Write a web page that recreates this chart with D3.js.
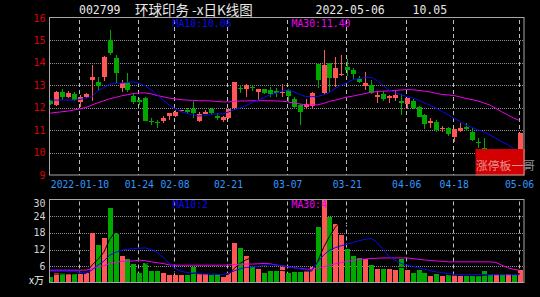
<!DOCTYPE html>
<html>
<head>
<meta charset="utf-8">
<script src="https://cdn.jsdelivr.net/npm/d3@7"></script>
<style>
html, body { margin: 0; padding: 0; background: #000; }
svg { display: block; }
</style>
</head>
<body>
<svg id="chart" width="540" height="297"></svg>
<script>
// trading days shown (first one is cut by the left border)
var dates = [
    "2021-12-31",
    "2022-01-04", "2022-01-05", "2022-01-06", "2022-01-07",
    "2022-01-10", "2022-01-11", "2022-01-12", "2022-01-13", "2022-01-14",
    "2022-01-17", "2022-01-18", "2022-01-19", "2022-01-20", "2022-01-21",
    "2022-01-24", "2022-01-25", "2022-01-26", "2022-01-27", "2022-01-28",
    "2022-02-07", "2022-02-08", "2022-02-09", "2022-02-10", "2022-02-11",
    "2022-02-14", "2022-02-15", "2022-02-16", "2022-02-17", "2022-02-18",
    "2022-02-21", "2022-02-22", "2022-02-23", "2022-02-24", "2022-02-25",
    "2022-02-28", "2022-03-01", "2022-03-02", "2022-03-03", "2022-03-04",
    "2022-03-07", "2022-03-08", "2022-03-09", "2022-03-10", "2022-03-11",
    "2022-03-14", "2022-03-15", "2022-03-16", "2022-03-17", "2022-03-18",
    "2022-03-21", "2022-03-22", "2022-03-23", "2022-03-24", "2022-03-25",
    "2022-03-28", "2022-03-29", "2022-03-30", "2022-03-31", "2022-04-01",
    "2022-04-06", "2022-04-07", "2022-04-08",
    "2022-04-11", "2022-04-12", "2022-04-13", "2022-04-14", "2022-04-15",
    "2022-04-18", "2022-04-19", "2022-04-20", "2022-04-21", "2022-04-22",
    "2022-04-25", "2022-04-26", "2022-04-27", "2022-04-28", "2022-04-29",
    "2022-05-05", "2022-05-06"
];

var open = [12.30, 12.12, 12.71, 12.46, 12.61, 12.27, 12.49, 13.24, 13.13, 13.36,
    15.02, 14.20, 12.87, 13.15, 12.51, 12.33, 12.45, 11.40, 11.38, 11.42,
    11.64, 11.64, 11.84, 11.90, 11.93, 11.41, 11.73, 11.93, 11.64, 11.45,
    11.55, 11.97, 12.90, 12.83, 12.92, 12.71, 12.82, 12.79, 12.74, 12.64,
    12.79, 12.38, 12.12, 12.03, 12.08, 13.95, 12.64, 13.98, 13.33, 13.46,
    13.83, 13.68, 13.30, 12.97, 13.01, 12.46, 12.61, 12.45, 12.42, 12.30,
    12.17, 12.30, 12.05, 11.68, 11.31, 11.38, 11.04, 11.08, 10.71, 10.96,
    11.13, 10.93, 10.48, 10.22, 9.95, 9.40, 9.55, 9.30, 9.40, 9.20];
var high = [12.35, 12.75, 12.82, 12.76, 12.70, 12.55, 12.67, 13.89, 13.36, 14.30,
    15.47, 14.35, 13.25, 13.55, 12.65, 12.45, 12.50, 11.55, 11.47, 11.62,
    11.76, 11.88, 11.92, 11.97, 12.30, 11.82, 11.88, 11.98, 11.75, 11.62,
    11.95, 13.15, 13.00, 13.05, 12.98, 12.85, 12.85, 12.91, 12.87, 13.04,
    12.85, 12.49, 12.15, 12.38, 12.70, 14.00, 14.57, 14.00, 14.27, 14.35,
    14.16, 13.75, 13.40, 13.60, 13.24, 12.69, 12.75, 12.57, 12.75, 12.60,
    12.45, 12.38, 12.08, 11.70, 11.54, 11.45, 11.18, 11.12, 11.06, 11.33,
    11.33, 11.08, 10.66, 10.64, 10.02, 9.62, 9.60, 9.50, 9.45, 10.86];
var low = [12.10, 12.08, 12.34, 12.42, 12.30, 12.02, 12.45, 12.30, 12.75, 13.20,
    14.35, 13.10, 12.70, 12.68, 12.15, 12.12, 11.40, 11.23, 11.10, 11.30,
    11.45, 11.60, 11.80, 11.70, 11.53, 11.35, 11.70, 11.72, 11.45, 11.35,
    11.50, 11.90, 12.64, 12.49, 12.75, 12.34, 12.60, 12.49, 12.50, 12.49,
    12.27, 11.93, 11.23, 11.98, 11.95, 12.87, 12.60, 12.71, 12.94, 13.40,
    13.43, 13.30, 13.08, 12.79, 12.60, 12.20, 12.31, 12.20, 12.30, 11.68,
    11.94, 11.94, 11.58, 11.05, 11.10, 10.93, 10.93, 10.75, 10.49, 10.93,
    10.98, 10.50, 10.22, 9.90, 9.40, 9.30, 9.25, 9.20, 9.10, 9.15];
var close = [12.17, 12.71, 12.46, 12.64, 12.34, 12.49, 12.60, 13.38, 12.95, 14.25,
    14.43, 13.55, 13.09, 12.78, 12.26, 12.27, 11.42, 11.36, 11.33, 11.53,
    11.75, 11.82, 11.88, 11.82, 11.78, 11.71, 11.82, 11.78, 11.56, 11.60,
    11.93, 13.13, 12.84, 13.01, 12.88, 12.82, 12.66, 12.61, 12.65, 12.71,
    12.52, 12.02, 11.82, 12.16, 12.65, 13.24, 13.90, 13.33, 13.76, 13.52,
    13.68, 13.50, 13.16, 13.09, 12.67, 12.57, 12.39, 12.52, 12.57, 12.20,
    12.42, 12.00, 11.60, 11.26, 11.42, 11.01, 11.11, 10.83, 11.04, 11.08,
    11.05, 10.56, 10.44, 9.95, 9.45, 9.55, 9.30, 9.45, 9.14, 10.86];

var ma10 = [12.34, 12.34, 12.34, 12.34, 12.34, 12.37, 12.43, 12.49, 12.75, 12.90,
    13.04, 13.09, 13.10, 13.13, 13.15, 13.08, 12.97, 12.79, 12.57, 12.34,
    12.12, 11.97, 11.83, 11.75, 11.68, 11.63, 11.65, 11.70, 11.72, 11.72,
    11.81, 11.92, 11.99, 12.10, 12.23, 12.34, 12.46, 12.57, 12.64, 12.75,
    12.79, 12.71, 12.59, 12.50, 12.49, 12.50, 12.57, 12.68, 12.86, 13.01,
    13.12, 13.26, 13.30, 13.35, 13.36, 13.21, 13.01, 12.79, 12.67, 12.59,
    12.50, 12.43, 12.34, 12.21, 12.10, 11.97, 11.83, 11.68, 11.52, 11.39,
    11.23, 11.12, 11.01, 10.92, 10.78, 10.64, 10.49, 10.36, 10.18, 10.07];
var ma30 = [11.76, 11.79, 11.82, 11.85, 11.90, 11.95, 12.01, 12.12, 12.22, 12.31,
    12.40, 12.46, 12.53, 12.58, 12.63, 12.66, 12.66, 12.62, 12.54, 12.49,
    12.43, 12.39, 12.36, 12.34, 12.33, 12.31, 12.31, 12.30, 12.28, 12.26,
    12.26, 12.28, 12.30, 12.30, 12.31, 12.31, 12.31, 12.31, 12.30, 12.29,
    12.26, 12.21, 12.17, 12.12, 12.12, 12.13, 12.19, 12.28, 12.34, 12.41,
    12.48, 12.52, 12.58, 12.63, 12.69, 12.72, 12.74, 12.75, 12.77, 12.79,
    12.81, 12.80, 12.77, 12.74, 12.70, 12.64, 12.59, 12.57, 12.54, 12.48,
    12.41, 12.36, 12.30, 12.21, 12.12, 11.97, 11.82, 11.68, 11.54, 11.43];

// volume in 万 shares
var volume = [2.2, 3.7, 3.7, 3.4, 3.4, 3.4, 3.7, 18.1, 13.6, 16.3,
    27.0, 17.8, 9.6, 8.5, 6.7, 3.6, 7.3, 4.2, 4.2, 3.6,
    3.0, 3.0, 3.0, 2.8, 5.8, 3.4, 3.4, 3.0, 3.2, 2.2,
    3.7, 14.2, 12.4, 9.6, 5.8, 4.9, 3.6, 4.2, 4.2, 5.8,
    3.7, 3.9, 3.9, 4.2, 5.8, 20.1, 29.7, 23.7, 21.1, 17.2,
    12.1, 9.7, 9.1, 8.5, 6.6, 4.9, 4.9, 5.2, 4.6, 8.5,
    4.6, 3.6, 4.6, 3.6, 2.5, 3.4, 2.5, 2.8, 3.0, 2.5,
    2.5, 2.5, 2.5, 4.2, 3.4, 3.0, 3.0, 3.4, 3.0, 4.6];
var volMa5 = [3.2, 3.2, 3.3, 3.3, 3.3, 3.5, 3.5, 6.4, 8.4, 11.0,
    15.7, 18.6, 16.9, 15.8, 13.9, 9.2, 7.1, 6.1, 5.2, 4.6,
    4.5, 3.6, 3.4, 3.1, 3.5, 3.6, 3.7, 3.7, 3.8, 3.0,
    3.1, 5.3, 7.1, 8.4, 9.1, 9.4, 7.3, 5.6, 4.5, 4.5,
    4.3, 4.4, 4.3, 4.3, 4.3, 7.6, 12.7, 16.7, 20.1, 22.4,
    20.8, 16.8, 13.8, 11.3, 9.2, 7.8, 6.8, 6.0, 5.2, 5.6,
    5.6, 5.3, 5.2, 5.0, 3.8, 3.5, 3.3, 3.0, 2.8, 2.8,
    2.7, 2.7, 2.6, 2.8, 3.0, 3.1, 3.2, 3.4, 3.2, 3.4];
var volMa10 = [4.2, 4.2, 4.2, 4.2, 4.2, 3.8, 3.5, 4.6, 6.4, 7.8,
    10.0, 11.0, 11.8, 12.1, 12.4, 12.5, 12.6, 12.1, 11.0, 9.2,
    7.1, 5.3, 4.2, 3.8, 3.5, 3.3, 3.2, 3.2, 3.1, 3.0,
    3.5, 4.4, 5.1, 5.6, 5.8, 6.0, 6.3, 6.6, 6.4, 6.2,
    5.8, 5.5, 5.1, 4.7, 4.6, 7.4, 10.0, 11.8, 12.7, 13.4,
    13.9, 14.6, 15.2, 15.7, 16.0, 14.6, 12.1, 9.6, 8.2, 7.1,
    6.4, 6.0, 5.5, 4.9, 4.4, 4.0, 3.7, 3.4, 3.1, 3.0,
    2.9, 3.0, 3.0, 3.0, 3.0, 3.0, 3.0, 3.0, 3.0, 3.0];
var volMa30 = [4.6, 4.6, 4.6, 4.6, 4.6, 4.6, 4.6, 5.1, 5.8, 6.2,
    7.0, 7.4, 7.8, 7.8, 7.9, 8.2, 8.0, 7.6, 7.3, 7.0,
    6.5, 6.4, 6.4, 6.4, 6.4, 6.4, 6.4, 6.4, 6.4, 6.4,
    6.5, 6.6, 6.7, 6.8, 6.8, 6.9, 7.0, 6.9, 6.5, 6.2,
    5.8, 5.5, 5.2, 5.0, 4.9, 5.3, 5.8, 6.4, 6.9, 7.3,
    7.8, 8.2, 8.4, 8.6, 8.8, 8.9, 9.0, 9.0, 9.0, 9.0,
    9.0, 8.8, 8.5, 8.3, 8.1, 7.9, 7.8, 7.6, 7.6, 7.6,
    7.6, 7.6, 7.6, 7.6, 7.6, 7.4, 6.4, 5.5, 4.9, 4.6];

var priceTicks = [9, 10, 11, 12, 13, 14, 15, 16];
var volTicks = [6, 12, 18, 24, 30];
var dateTicks = ["2022-01-10", "2022-01-24", "2022-02-08", "2022-02-21", "2022-03-07",
    "2022-03-21", "2022-04-06", "2022-04-18", "2022-05-06"];
var dateTickLabels = ["2022-01-10", "01-24", "02-08", "02-21", "03-07",
    "03-21", "04-06", "04-18", "05-06"];

var UP = "#ff5656", DOWN = "#00a800", BLUE = "#0a0af0", PINK = "#f000f0";
var mono = "'DejaVu Sans Mono', monospace";

var svg = d3.select("#chart");
svg.append("rect").attr("width", 540).attr("height", 297).attr("fill", "#000");

var plot = { left: 50, right: 524, top: 18, bottom: 175 };
var vplot = { top: 199.5, bottom: 283 };

var x = d3.scaleBand().domain(dates).range([47.3, 47.3 + dates.length * 5.94]).padding(0);
function cx(d) { return x(d) + x.bandwidth() / 2; }

var y = d3.scaleLinear().domain([9, 16]).range([plot.bottom, plot.top]);
var vy = d3.scaleLinear().domain([0, 30]).range([vplot.bottom, vplot.top]);

var data = dates.map(function (d, i) {
    return { date: d, o: open[i], h: high[i], l: low[i], c: close[i], v: volume[i],
        ma10: ma10[i], ma30: ma30[i], vma5: volMa5[i], vma10: volMa10[i], vma30: volMa30[i] };
});

var defs = svg.append("defs");
defs.append("clipPath").attr("id", "clipMain").append("rect")
    .attr("x", plot.left).attr("y", plot.top)
    .attr("width", plot.right - plot.left).attr("height", plot.bottom - plot.top);
defs.append("clipPath").attr("id", "clipVol").append("rect")
    .attr("x", plot.left).attr("y", vplot.top)
    .attr("width", plot.right - plot.left).attr("height", vplot.bottom - vplot.top);

// ---------- title ----------
svg.append("text").attr("x", 79).attr("y", 14).attr("fill", "#e8e8e8")
    .style("font", "11.5px " + mono).text("002799");
svg.append("text").attr("x", 135).attr("y", 14.5).attr("fill", "#e8e8e8")
    .style("font-family", "'Noto Sans CJK SC'").style("font-size", "13.5px")
    .text("环球印务 -x日K线图");
svg.append("text").attr("x", 315.5).attr("y", 14).attr("fill", "#e8e8e8")
    .style("font", "11.5px " + mono).text("2022-05-06");
svg.append("text").attr("x", 412.5).attr("y", 14).attr("fill", "#e8e8e8")
    .style("font", "11.5px " + mono).text("10.05");

// ---------- grids ----------
function hgrid(vals, scale) {
    svg.append("g").selectAll("line").data(vals).enter().append("line")
        .attr("x1", plot.left).attr("x2", plot.right)
        .attr("y1", function (d) { return Math.round(scale(d)) + 0.5; })
        .attr("y2", function (d) { return Math.round(scale(d)) + 0.5; })
        .attr("stroke", "#8c8c8c").attr("stroke-dasharray", "1,1");
}
hgrid([10, 11, 12, 13, 14, 15], y);
hgrid([6, 12, 18, 24], vy);

function vgrid(top, bottom) {
    svg.append("g").selectAll("line").data(dateTicks).enter().append("line")
        .attr("x1", function (d) { return Math.round(cx(d)) - 0.5; })
        .attr("x2", function (d) { return Math.round(cx(d)) - 0.5; })
        .attr("y1", top).attr("y2", bottom)
        .attr("stroke", "#bdbdbd").attr("stroke-dasharray", "4,3");
}
vgrid(plot.top + 2, plot.bottom);
vgrid(vplot.top + 2, vplot.bottom);

// ---------- candles ----------
var gc = svg.append("g").attr("clip-path", "url(#clipMain)").attr("shape-rendering", "crispEdges");
gc.selectAll(".wick").data(data).enter().append("line")
    .attr("x1", function (d) { return Math.round(cx(d.date)) + 0.5; })
    .attr("x2", function (d) { return Math.round(cx(d.date)) + 0.5; })
    .attr("y1", function (d) { return y(d.h); })
    .attr("y2", function (d) { return y(d.l); })
    .attr("stroke", function (d) { return d.c >= d.o ? UP : DOWN; });
gc.selectAll(".body").data(data).enter().append("rect")
    .attr("x", function (d) { return Math.round(cx(d.date)) - 2; })
    .attr("width", 5)
    .attr("y", function (d) { return y(Math.max(d.o, d.c)); })
    .attr("height", function (d) { return Math.max(1, Math.abs(y(d.o) - y(d.c))); })
    .attr("fill", function (d) { return d.c >= d.o ? UP : DOWN; });

var gl = svg.append("g").attr("clip-path", "url(#clipMain)");
function priceLine(key, color) {
    gl.append("path").datum(data)
        .attr("fill", "none").attr("stroke", color).attr("stroke-width", 1)
        .attr("d", d3.line().x(function (d) { return cx(d.date); })
            .y(function (d) { return y(d[key]); }));
}
priceLine("ma30", PINK);
priceLine("ma10", BLUE);

svg.append("text").attr("x", 172.5).attr("y", 27).attr("fill", BLUE)
    .style("font", "9.8px " + mono).text("MA10:10.06");
svg.append("text").attr("x", 291.5).attr("y", 27).attr("fill", PINK)
    .style("font", "9.8px " + mono).text("MA30:11.40");

// red tag
svg.append("rect").attr("x", 475.5).attr("y", 149).attr("width", 49.5).attr("height", 26.5)
    .attr("fill", "#d20000");
svg.append("text").attr("x", 476).attr("y", 169.5).attr("fill", "rgba(255,255,255,0.58)")
    .style("font-family", "'Noto Sans CJK SC'").style("font-size", "11.8px")
    .text("涨停板一哥");

// ---------- volume ----------
var gv = svg.append("g").attr("clip-path", "url(#clipVol)").attr("shape-rendering", "crispEdges");
gv.selectAll("rect").data(data).enter().append("rect")
    .attr("x", function (d) { return Math.round(cx(d.date)) - 2; })
    .attr("width", 5)
    .attr("y", function (d) { return vy(d.v); })
    .attr("height", function (d) { return vy(0) - vy(d.v); })
    .attr("fill", function (d) { return d.c >= d.o ? UP : DOWN; });

var gvl = svg.append("g").attr("clip-path", "url(#clipVol)");
function volLine(key, color) {
    gvl.append("path").datum(data)
        .attr("fill", "none").attr("stroke", color).attr("stroke-width", 1)
        .attr("d", d3.line().x(function (d) { return cx(d.date); })
            .y(function (d) { return vy(d[key]); }));
}
volLine("vma5", "#000");
volLine("vma30", PINK);
volLine("vma10", BLUE);

svg.append("text").attr("x", 172.5).attr("y", 208).attr("fill", BLUE)
    .style("font", "9.8px " + mono).text("MA10:2");
svg.append("text").attr("x", 291.5).attr("y", 208).attr("fill", PINK)
    .style("font", "9.8px " + mono).text("MA30:4");

// ---------- frames ----------
svg.append("rect").attr("x", 49.5).attr("y", 17.5)
    .attr("width", plot.right - plot.left + 0.5).attr("height", plot.bottom - plot.top + 0.5)
    .attr("fill", "none").attr("stroke", "#a8a8a8");
svg.append("rect").attr("x", 49.5).attr("y", vplot.top)
    .attr("width", plot.right - plot.left + 0.5).attr("height", vplot.bottom - vplot.top - 0.5)
    .attr("fill", "none").attr("stroke", "#a8a8a8");

// ---------- axes labels ----------
svg.append("g").selectAll("text").data(priceTicks).enter().append("text")
    .attr("x", 45.5).attr("y", function (d) { return y(d) + 3.5; })
    .attr("text-anchor", "end").attr("fill", "#dd0000")
    .style("font", "10px " + mono)
    .text(function (d) { return d; });

svg.append("g").selectAll("text").data(volTicks).enter().append("text")
    .attr("x", 45.5).attr("y", function (d) { return Math.max(vy(d), 203) + 3.5; })
    .attr("text-anchor", "end").attr("fill", "#d4d4d4")
    .style("font", "10px " + mono)
    .text(function (d) { return d; });
svg.append("text").attr("x", 44).attr("y", 283.5).attr("text-anchor", "end")
    .attr("fill", "#f0f0f0").style("font-family", "'Noto Sans CJK SC'")
    .style("font-size", "10px").text("x万");

svg.append("g").selectAll("text").data(dateTicks).enter().append("text")
    .attr("x", function (d) { return cx(d); })
    .attr("y", 188)
    .attr("text-anchor", "middle").attr("fill", "#3298ff")
    .style("font", "9.7px " + mono)
    .text(function (d, i) { return dateTickLabels[i]; });
</script>
</body>
</html>
